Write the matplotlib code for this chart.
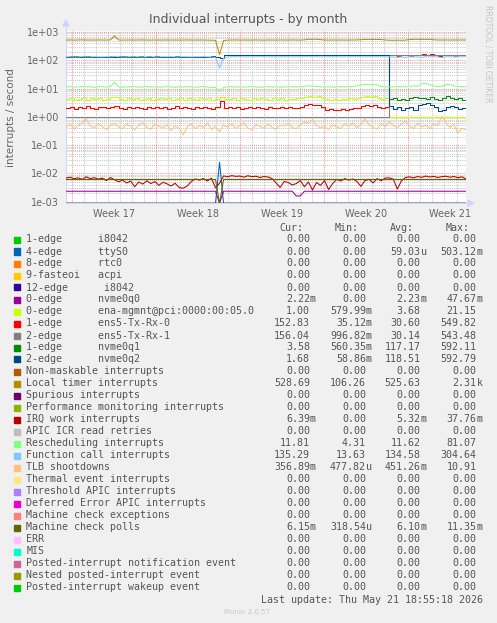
import numpy as np
import pandas as pd
import matplotlib
matplotlib.use("Agg")
import matplotlib.pyplot as plt
from matplotlib.patches import Rectangle, Polygon
from matplotlib.lines import Line2D
from matplotlib.ticker import NullLocator

# ---------------------------------------------------------------------------
# data (one sample every ~8 hours)
# ---------------------------------------------------------------------------
END = pd.Timestamp("2026-05-21 18:55:18")
SPAN = 33.25  # days shown

local_timer = [
    526, 530, 524, 528, 533, 527, 525, 529, 531, 526,
    528, 534, 740, 530, 525, 527, 529, 526, 528, 531,
    527, 525, 529, 528, 526, 530, 527, 529, 525, 528,
    530, 526, 528, 527, 529, 524, 520, 515, 160, 505,
    525, 528, 531, 527, 529, 526, 528, 530, 527, 525,
    529, 528, 526, 530, 527, 529, 531, 528, 526, 535,
    560, 558, 562, 545, 528, 526, 530, 527, 529, 526,
    528, 530, 532, 545, 552, 556, 550, 554, 548, 530,
    520, 518, 522, 519, 524, 548, 556, 560, 552, 558,
    555, 540, 530, 528, 532, 527, 530, 529, 531, 529]

function_call = [
    134, 135, 133, 134, 136, 134, 133, 135, 134, 133,
    135, 134, 140, 134, 133, 135, 134, 136, 134, 133,
    134, 135, 133, 134, 135, 134, 136, 133, 134, 135,
    134, 133, 135, 134, 136, 134, 132, 128, 54, 120,
    133, 135, 134, 136, 134, 133, 135, 134, 136, 134,
    133, 135, 134, 133, 136, 134, 135, 133, 134, 136,
    135, 134, 136, 133, 134, 135, 134, 136, 134, 133,
    135, 134, 136, 134, 133, 135, 134, 136, 134, 133,
    135, 132, 128, 134, 126, 135, 134, 133, 128, 135,
    134, 136, 133, 125, 134, 135, 133, 136, 134, 135]

nvme0q1 = [
    134, 141, 133, 134, 135, 142, 133, 134, 135, 133,
    134, 135, 133, 142, 134, 133, 135, 134, 133, 134,
    141, 133, 134, 135, 134, 133, 135, 134, 133, 134,
    135, 134, 133, 134, 135, 134, 133, 130, 120, 150,
    158, 159, 158, 160, 159, 158, 159, 160, 158, 159,
    160, 159, 158, 159, 160, 158, 159, 160, 159, 158,
    159, 160, 158, 159, 160, 159, 158, 159, 160, 159,
    158, 160, 159, 158, 159, 160, 158, 159, 160, 159,
    4.3, 4.6, 4.1, 4.4, 4.0, 4.7, 5.2, 4.8, 4.5, 4.2,
    4.9, 4.4, 4.1, 4.6, 5.4, 4.8, 4.3, 4.5, 3.9, 3.6]

nvme0q2 = [
    134, 133, 142, 134, 141, 133, 134, 135, 133, 134,
    133, 142, 134, 133, 141, 134, 142, 133, 141, 134,
    133, 134, 142, 133, 134, 135, 133, 141, 134, 133,
    134, 133, 135, 134, 133, 134, 142, 130, 120, 152,
    160, 161, 160, 162, 161, 160, 161, 162, 160, 161,
    162, 161, 160, 161, 162, 160, 161, 162, 161, 160,
    161, 162, 160, 161, 162, 161, 160, 161, 162, 161,
    160, 162, 161, 160, 161, 162, 160, 161, 162, 161,
    2.4, 1.9, 2.2, 1.7, 2.0, 2.3, 1.8, 2.6, 2.9, 3.0,
    2.7, 2.2, 1.6, 1.8, 2.3, 2.5, 2.2, 1.9, 2.1, 1.7]

tx_rx_0 = [
    2.1, 2.3, 1.9, 2.2, 2.0, 2.4, 2.1, 1.9, 2.2, 2.3,
    2.0, 2.2, 2.5, 2.1, 1.9, 2.2, 2.0, 2.3, 2.1, 1.9,
    2.2, 2.0, 2.3, 2.1, 2.2, 1.9, 2.1, 2.4, 2.0, 2.2,
    2.1, 1.9, 2.3, 2.0, 2.2, 2.1, 1.9, 2.2, 3.6, 2.0,
    2.2, 2.1, 2.3, 1.9, 2.1, 2.2, 2.0, 2.3, 2.1, 1.9,
    2.2, 2.0, 2.1, 2.3, 2.0, 2.2, 2.1, 2.0, 2.3, 2.6,
    2.8, 2.6, 2.7, 2.2, 1.8, 1.9, 1.7, 1.8, 1.9, 1.8,
    1.9, 2.0, 2.1, 2.5, 2.7, 2.4, 2.6, 2.3, 2.0, 2.2,
    150, 152, 148, 155, 151, 149, 153, 150, 172, 152,
    175, 151, 149, 153, 150, 152, 148, 151, 150, 153]

tx_rx_1 = [1.0] * 80 + [
    154, 155, 153, 156, 155, 154, 156, 155, 155, 156,
    154, 156, 155, 154, 156, 155, 153, 156, 155, 156]

ena_mgmnt = [
    4.3, 4.6, 4.0, 4.4, 4.8, 4.1, 4.5, 4.2, 4.7, 4.0,
    4.4, 4.9, 5.2, 4.3, 4.1, 4.6, 4.2, 4.5, 4.0, 4.4,
    4.7, 4.1, 4.3, 4.6, 4.2, 4.8, 4.0, 4.4, 4.5, 4.1,
    4.6, 4.3, 4.0, 4.5, 4.2, 4.7, 4.1, 4.3, 5.0, 4.2,
    4.4, 4.6, 4.1, 4.5, 4.3, 4.0, 4.6, 4.2, 4.8, 4.4,
    4.1, 4.5, 4.3, 4.7, 4.0, 4.4, 4.2, 4.6, 4.5, 4.9,
    5.4, 5.1, 5.3, 4.6, 4.3, 4.1, 4.4, 4.0, 4.3, 4.2,
    4.5, 4.4, 4.6, 5.2, 5.5, 5.0, 5.3, 4.8, 4.4, 4.6] + [1.0] * 20

rescheduling = [
    11.5, 11.8, 11.3, 11.6, 11.9, 11.4, 11.7, 11.2, 11.6, 11.8,
    11.4, 11.9, 17.0, 11.6, 11.3, 11.7, 11.5, 11.8, 11.2, 11.6,
    11.9, 11.4, 11.7, 11.3, 11.6, 11.8, 11.5, 11.2, 11.7, 11.4,
    11.8, 11.5, 11.3, 11.6, 11.9, 11.4, 11.2, 11.0, 8.3, 11.1,
    11.6, 11.8, 11.4, 11.7, 11.3, 11.6, 11.9, 11.5, 11.2, 11.6,
    11.8, 11.4, 11.7, 11.3, 11.6, 11.5, 11.8, 11.4, 11.7, 12.2,
    12.6, 12.3, 12.1, 11.6, 11.4, 11.7, 11.3, 11.6, 11.8, 11.5,
    11.7, 11.9, 12.4, 14.0, 14.4, 13.8, 14.2, 13.6, 12.0, 11.6,
    11.8, 11.5, 12.0, 11.7, 11.4, 12.2, 12.6, 12.1, 14.8, 15.2,
    14.0, 12.4, 11.9, 12.2, 13.8, 14.2, 12.6, 12.0, 11.6, 11.8]

tlb = [
    0.42, 0.55, 0.38, 0.50, 0.62, 0.85, 0.48, 0.40, 0.58, 0.45,
    0.36, 0.52, 0.60, 0.44, 0.39, 0.55, 0.47, 0.35, 0.51, 0.63,
    0.42, 0.37, 0.56, 0.46, 0.41, 0.53, 0.33, 0.48, 0.40, 0.23,
    0.45, 0.57, 0.38, 0.50, 0.43, 0.61, 0.36, 0.47, 0.30, 0.52,
    0.44, 0.58, 0.39, 0.49, 0.62, 0.41, 0.35, 0.54, 0.46, 0.40,
    0.57, 0.43, 0.37, 0.51, 0.48, 0.60, 0.42, 0.38, 0.55, 0.66,
    0.59, 0.80, 0.50, 0.41, 0.47, 0.36, 0.53, 0.44, 0.39, 0.58,
    0.46, 0.62, 0.40, 0.55, 0.85, 0.52, 0.43, 0.37, 0.60, 0.45,
    0.68, 0.50, 0.41, 0.56, 0.72, 0.47, 0.39, 0.61, 0.44, 0.52,
    0.38, 0.58, 0.49, 1.05, 0.64, 0.42, 0.55, 0.27, 0.40, 0.36]

irq_work = [
    6.8e-3, 7.4e-3, 6.5e-3, 7.0e-3, 6.2e-3, 7.6e-3, 6.6e-3, 7.1e-3, 6.3e-3, 6.9e-3,
    5.6e-3, 7.2e-3, 6.0e-3, 5.1e-3, 5.8e-3, 4.6e-3, 5.4e-3, 3.4e-3, 5.0e-3, 4.2e-3,
    5.5e-3, 4.4e-3, 5.2e-3, 3.8e-3, 4.9e-3, 4.3e-3, 3.6e-3, 4.5e-3, 3.2e-3, 3.0e-3,
    3.6e-3, 5.2e-3, 6.4e-3, 5.8e-3, 6.6e-3, 5.4e-3, 6.8e-3, 3.1e-3, 4.5e-3, 8.2e-3,
    7.6e-3, 8.4e-3, 7.9e-3, 8.1e-3, 7.4e-3, 8.3e-3, 7.7e-3, 8.0e-3, 7.2e-3, 7.8e-3,
    7.5e-3, 6.6e-3, 4.6e-3, 3.2e-3, 5.2e-3, 4.8e-3, 3.9e-3, 4.4e-3, 5.6e-3, 3.4e-3,
    5.0e-3, 2.6e-3, 4.8e-3, 3.8e-3, 5.6e-3, 2.7e-3, 4.4e-3, 6.2e-3, 5.4e-3, 6.6e-3,
    5.8e-3, 6.4e-3, 5.2e-3, 3.5e-3, 5.6e-3, 6.2e-3, 4.6e-3, 6.6e-3, 5.5e-3, 6.9e-3,
    7.0e-3, 6.3e-3, 2.8e-3, 5.4e-3, 7.2e-3, 7.6e-3, 7.0e-3, 7.8e-3, 7.3e-3, 8.1e-3,
    7.5e-3, 7.9e-3, 7.2e-3, 7.7e-3, 8.0e-3, 7.4e-3, 7.8e-3, 7.1e-3, 7.6e-3, 6.4e-3]

mc_polls = [6.1e-3] * 38 + [3.2e-4] + [6.1e-3] * 61

nvme0q0 = [2.35e-3] * 38 + [0.0] + [2.35e-3] * 18 + [1.6e-3, 1.6e-3] + [2.35e-3] * 41

ttys0 = [0.0] * 38 + [0.025] + [0.0] * 61

# legend rows: label, colour, plotted series (None = all zero), step line
labels = [
    "1-edge      i8042",
    "4-edge      ttyS0",
    "8-edge      rtc0",
    "9-fasteoi   acpi",
    "12-edge      i8042",
    "0-edge      nvme0q0",
    "0-edge      ena-mgmnt@pci:0000:00:05.0",
    "1-edge      ens5-Tx-Rx-0",
    "2-edge      ens5-Tx-Rx-1",
    "1-edge      nvme0q1",
    "2-edge      nvme0q2",
    "Non-maskable interrupts",
    "Local timer interrupts",
    "Spurious interrupts",
    "Performance monitoring interrupts",
    "IRQ work interrupts",
    "APIC ICR read retries",
    "Rescheduling interrupts",
    "Function call interrupts",
    "TLB shootdowns",
    "Thermal event interrupts",
    "Threshold APIC interrupts",
    "Deferred Error APIC interrupts",
    "Machine check exceptions",
    "Machine check polls",
    "ERR",
    "MIS",
    "Posted-interrupt notification event",
    "Nested posted-interrupt event",
    "Posted-interrupt wakeup event",
]
colors = [
    "#00CC00", "#0066B3", "#FF8000", "#FFCC00", "#330099", "#990099",
    "#CCFF00", "#FF0000", "#808080", "#008F00", "#00487D", "#B35A00",
    "#B38F00", "#6B006B", "#8FB300", "#B30000", "#BEBEBE", "#80FF80",
    "#80C9FF", "#FFC080", "#FFE680", "#AA80FF", "#EE00CC", "#FF8080",
    "#666600", "#FFBFFF", "#00FFCC", "#CC6699", "#999900", "#00CC00",
]
plotted = {
    1: ttys0, 5: nvme0q0, 6: ena_mgmnt, 7: tx_rx_0, 8: tx_rx_1,
    9: nvme0q1, 10: nvme0q2, 12: local_timer, 15: irq_work,
    17: rescheduling, 18: function_call, 19: tlb, 24: mc_polls,
}
stepped = {6, 7, 8, 9, 10}

cur = ["0.00", "0.00", "0.00", "0.00", "0.00", "2.22m", "1.00", "152.83",
       "156.04", "3.58", "1.68", "0.00", "528.69", "0.00", "0.00", "6.39m",
       "0.00", "11.81", "135.29", "356.89m", "0.00", "0.00", "0.00", "0.00",
       "6.15m", "0.00", "0.00", "0.00", "0.00", "0.00"]
mins = ["0.00", "0.00", "0.00", "0.00", "0.00", "0.00", "579.99m", "35.12m",
        "996.82m", "560.35m", "58.86m", "0.00", "106.26", "0.00", "0.00",
        "0.00", "0.00", "4.31", "13.63", "477.82u", "0.00", "0.00", "0.00",
        "0.00", "318.54u", "0.00", "0.00", "0.00", "0.00", "0.00"]
avgs = ["0.00", "59.03u", "0.00", "0.00", "0.00", "2.23m", "3.68", "30.60",
        "30.14", "117.17", "118.51", "0.00", "525.63", "0.00", "0.00", "5.32m",
        "0.00", "11.62", "134.58", "451.26m", "0.00", "0.00", "0.00", "0.00",
        "6.10m", "0.00", "0.00", "0.00", "0.00", "0.00"]
maxs = ["0.00", "503.12m", "0.00", "0.00", "0.00", "47.67m", "21.15", "549.82",
        "543.48", "592.11", "592.79", "0.00", "2.31k", "0.00", "0.00", "37.76m",
        "0.00", "81.07", "304.64", "10.91", "0.00", "0.00", "0.00", "0.00",
        "11.35m", "0.00", "0.00", "0.00", "0.00", "0.00"]

# ---------------------------------------------------------------------------
W, H = 497, 623
FONT = "#666666"
AXIS = "#CFD6F8"
YMIN, YMAX = 8.8e-4, 1.1e3
PL, PR, PT, PB = 66, 466, 31, 203.3


def fx(px):
    return px / W


def fy(py):
    return 1 - py / H


fig = plt.figure(figsize=(W / 100, H / 100), dpi=100, facecolor="#F0F0F0")
ax = fig.add_axes([fx(PL), fy(PB), (PR - PL) / W, (PB - PT) / H])
ax.set_facecolor("white")
ax.set_yscale("log")
ax.set_xlim(0, SPAN)
ax.set_ylim(YMIN, YMAX)

# grid
for e in range(-3, 4):
    ax.axhline(10.0 ** e, color="#F29A9A", lw=0.75, ls=(0, (1, 1)), zorder=1)
    for k in range(2, 10):
        if YMIN < k * 10.0 ** e < YMAX:
            ax.axhline(k * 10.0 ** e, color="#C8C8C8", lw=0.75, ls=(0, (1, 1)), zorder=0.9)

start = END - pd.Timedelta(days=SPAN)
one_day = pd.Timedelta(days=1)
days = pd.date_range(start.ceil("D"), END, freq="D")
week_pos, week_lab = [], []
for d in days:
    x = (d - start) / one_day
    if d.dayofweek == 6:
        ax.axvline(x, color="#F29A9A", lw=0.75, ls=(0, (1, 1)), zorder=1)
        mid = d + pd.Timedelta(days=3.5)
        if mid < END:
            week_pos.append((mid - start) / one_day)
            week_lab.append(f"Week {mid.isocalendar()[1]}")
    else:
        ax.axvline(x, color="#C8C8C8", lw=0.75, ls=(0, (1, 1)), zorder=0.9)

# series, drawn in legend order like rrdtool
t = np.linspace(0, SPAN, 100)
for i, (lab, col) in enumerate(zip(labels, colors)):
    vals = np.asarray(plotted.get(i, [0.0] * 100), dtype=float)
    vals = np.maximum(vals, YMIN)
    ax.plot(t, vals, color=col, lw=0.75, zorder=3 + i * 0.01,
            drawstyle="steps-post" if i in stepped else "default")

ax.set_yticks([10.0 ** e for e in range(-3, 4)],
              labels=[f"{10.0 ** e:.0e}" for e in range(-3, 4)])
ax.yaxis.set_minor_locator(NullLocator())
ax.set_xticks(week_pos, labels=week_lab)
ax.tick_params(axis="both", length=0, labelsize=7, labelcolor=FONT)
ax.tick_params(axis="y", pad=5)
ax.tick_params(axis="x", pad=4)
for s in ("top", "right"):
    ax.spines[s].set_visible(False)
for s in ("left", "bottom"):
    ax.spines[s].set_color(AXIS)
    ax.spines[s].set_linewidth(0.75)

# axis extensions and arrows
fig.add_artist(Line2D([fx(PL), fx(PL)], [fy(PT), fy(24)], color=AXIS, lw=0.75))
fig.add_artist(Line2D([fx(PR), fx(470)], [fy(PB), fy(PB)], color=AXIS, lw=0.75))
fig.add_artist(Polygon([(fx(63), fy(26)), (fx(69), fy(26)), (fx(66), fy(20))],
                       closed=True, color=AXIS, transform=fig.transFigure))
fig.add_artist(Polygon([(fx(468), fy(PB - 3)), (fx(468), fy(PB + 3)), (fx(474), fy(PB))],
                       closed=True, color=AXIS, transform=fig.transFigure))

# titles
fig.text(fx(248), fy(19), "Individual interrupts - by month", ha="center", va="center",
         fontsize=9, color="#555555")
fig.text(fx(11), fy((PT + PB) / 2), "interrupts / second", rotation=90, ha="center",
         va="center", fontsize=7.5, color=FONT)
fig.text(fx(488), fy(5), "RRDTOOL / TOBI OETIKER", rotation=270, ha="center", va="top",
         fontsize=5.5, color="#C4C4C4")

# legend table
MONO = "DejaVu Sans Mono"
LEG = "#555555"
ROW0, ROWH = 239.5, 12.0
for x, txt in zip((303, 359, 414, 470), ("Cur:", "Min:", "Avg:", "Max:")):
    fig.text(fx(x), fy(227.7), txt, ha="right", va="center", family=MONO,
             fontsize=7.2, color=LEG)

columns = [(310, cur), (366, mins), (420.7, avgs), (476.7, maxs)]
for r, (lab, col) in enumerate(zip(labels, colors)):
    y = ROW0 + r * ROWH
    fig.add_artist(Rectangle((fx(14), fy(y + 3)), 6 / W, 6 / H, color=col,
                             transform=fig.transFigure))
    fig.text(fx(26.3), fy(y), lab, ha="left", va="center", family=MONO,
             fontsize=7.2, color=LEG)
    for x, vals in columns:
        v = vals[r]
        unit = v[-1] if v[-1].isalpha() else ""
        num = v[:-1] if unit else v
        fig.text(fx(x), fy(y), num, ha="right", va="center", family=MONO,
                 fontsize=7.2, color=LEG)
        if unit:
            fig.text(fx(x), fy(y), unit, ha="left", va="center", family=MONO,
                     fontsize=7.2, color=LEG)

fig.text(fx(482.7), fy(600), "Last update: Thu May 21 18:55:18 2026", ha="right",
         va="center", family=MONO, fontsize=7.2, color=LEG)
fig.text(fx(247.5), fy(612.3), "Munin 2.0.57", ha="center", va="center",
         fontsize=5, color="#C8C8C8")

fig.savefig("out.png", dpi=100, facecolor=fig.get_facecolor())
